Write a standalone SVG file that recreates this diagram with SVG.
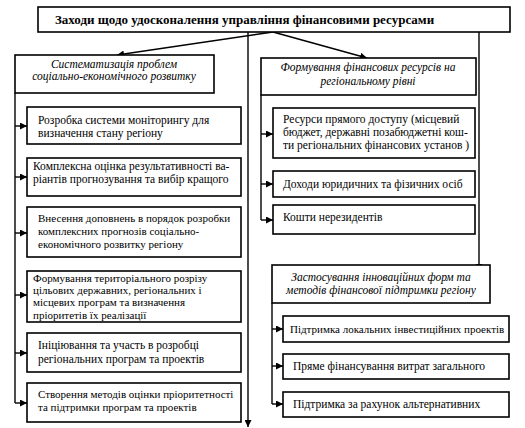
<svg xmlns="http://www.w3.org/2000/svg" width="525" height="428" viewBox="0 0 525 428">
<style>
.box{fill:#fff;stroke:#000;stroke-width:1.6}
.t{font-family:'Liberation Serif','DejaVu Serif',serif;font-size:11.5px;fill:#000}
.s{font-size:11px}
.h{font-family:'Liberation Serif','DejaVu Serif',serif;font-size:11.5px;font-style:italic;fill:#000;text-anchor:middle}
.title{font-family:'Liberation Serif','DejaVu Serif',serif;font-size:13px;font-weight:bold;fill:#000}
.ln{fill:none;stroke:#000;stroke-width:1.4}
</style>
<defs>
<marker id="ah" viewBox="0 0 10 10" refX="10" refY="5" markerWidth="7" markerHeight="7" markerUnits="userSpaceOnUse" orient="auto">
<path d="M0,0 L10,5 L0,10 z" fill="#000"/>
</marker>
<clipPath id="c4"><rect x="26" y="271" width="215" height="50"/></clipPath>
</defs>
<rect width="525" height="428" fill="#fff"/>

<g id="connectors">
<line class="ln" x1="273" y1="32" x2="117" y2="55" marker-end="url(#ah)"/>
<line class="ln" x1="273" y1="32" x2="367" y2="58" marker-end="url(#ah)"/>
<line class="ln" x1="248" y1="32" x2="248" y2="427" marker-end="url(#ah)"/>
<line class="ln" x1="479" y1="32" x2="479" y2="271" marker-end="url(#ah)"/>
<polyline class="ln" points="15,93 15,403"/>
<line class="ln" x1="15" y1="126" x2="27" y2="126" marker-end="url(#ah)"/>
<line class="ln" x1="15" y1="177" x2="27" y2="177" marker-end="url(#ah)"/>
<line class="ln" x1="15" y1="233" x2="27" y2="233" marker-end="url(#ah)"/>
<line class="ln" x1="15" y1="295" x2="27" y2="295" marker-end="url(#ah)"/>
<line class="ln" x1="15" y1="353" x2="27" y2="353" marker-end="url(#ah)"/>
<line class="ln" x1="15" y1="403" x2="27" y2="403" marker-end="url(#ah)"/>
<polyline class="ln" points="261,95 261,220"/>
<line class="ln" x1="261" y1="134" x2="273" y2="134" marker-end="url(#ah)"/>
<line class="ln" x1="261" y1="184" x2="273" y2="184" marker-end="url(#ah)"/>
<line class="ln" x1="261" y1="220" x2="273" y2="220" marker-end="url(#ah)"/>
<polyline class="ln" points="272,303 272,404"/>
<line class="ln" x1="272" y1="329" x2="283" y2="329" marker-end="url(#ah)"/>
<line class="ln" x1="272" y1="366" x2="283" y2="366" marker-end="url(#ah)"/>
<line class="ln" x1="272" y1="404" x2="283" y2="404" marker-end="url(#ah)"/>
</g>

<g id="root">
<rect class="box" x="38" y="7" width="472" height="25"/>
<text class="title" x="55" y="24">Заходи щодо удосконалення управління фінансовими ресурсами</text>
</g>

<g id="left-header">
<rect class="box" x="15" y="55" width="199" height="38"/>
<text class="h" x="114" y="68">Систематизація проблем</text>
<text class="h" x="114" y="80">соціально-економічного розвитку</text>
</g>

<g id="l1">
<rect class="box" x="27" y="107" width="214" height="37"/>
<text class="t" x="38" y="124">Розробка системи моніторингу для</text>
<text class="t" x="38" y="137">визначення стану регіону</text>
</g>
<g id="l2">
<rect class="box" x="27" y="158" width="214" height="38"/>
<text class="t" x="33" y="170">Комплексна оцінка результативності ва-</text>
<text class="t" x="33" y="183">ріантів прогнозування та вибір кращого</text>
</g>
<g id="l3">
<rect class="box" x="27" y="207" width="214" height="50"/>
<text class="t s" x="38" y="222">Внесення доповнень в порядок розробки</text>
<text class="t s" x="38" y="235">комплексних прогнозів соціально-</text>
<text class="t s" x="38" y="248">економічного розвитку регіону</text>
</g>
<g id="l4">
<rect class="box" x="27" y="271" width="214" height="51"/>
<g clip-path="url(#c4)">
<text class="t s" x="33" y="282">Формування територіального розрізу</text>
<text class="t s" x="33" y="294">цільових державних, регіональних і</text>
<text class="t s" x="33" y="306">місцевих програм та визначення</text>
<text class="t s" x="33" y="319">пріоритетів їх реалізації</text>
</g>
</g>
<g id="l5">
<rect class="box" x="27" y="333" width="214" height="39"/>
<text class="t" x="38" y="349">Ініціювання та участь в розробці</text>
<text class="t" x="38" y="363">регіональних програм та проектів</text>
</g>
<g id="l6">
<rect class="box" x="27" y="383" width="214" height="39"/>
<text class="t s" x="38" y="398">Створення методів оцінки пріоритетності</text>
<text class="t s" x="38" y="411">та підтримки програм та проектів</text>
</g>

<g id="right-header">
<rect class="box" x="261" y="58" width="215" height="37"/>
<text class="h" x="368" y="71">Формування фінансових ресурсів на</text>
<text class="h" x="368" y="85">регіональному рівні</text>
</g>
<g id="r1">
<rect class="box" x="273" y="108" width="202" height="50"/>
<text class="t" x="283" y="123">Ресурси прямого доступу (місцевий</text>
<text class="t" x="283" y="136">бюджет, державні позабюджетні кош-</text>
<text class="t" x="283" y="149">ти регіональних фінансових установ )</text>
</g>
<g id="r2">
<rect class="box" x="273" y="171" width="202" height="26"/>
<text class="t" x="283" y="188">Доходи юридичних та фізичних осіб</text>
</g>
<g id="r3">
<rect class="box" x="273" y="205" width="202" height="29"/>
<text class="t" x="283" y="221">Кошти нерезидентів</text>
</g>

<g id="right-header2">
<rect class="box" x="272" y="265" width="218" height="38"/>
<text class="h" x="381" y="281">Застосування інноваційних форм та</text>
<text class="h" x="381" y="294">методів фінансової підтримки регіону</text>
</g>
<g id="q1">
<rect class="box" x="283" y="316" width="226" height="26"/>
<text class="t s" x="290" y="333">Підтримка локальних інвестиційних проектів</text>
</g>
<g id="q2">
<rect class="box" x="283" y="354" width="226" height="25"/>
<text class="t" x="293" y="370">Пряме фінансування витрат загального</text>
</g>
<g id="q3">
<rect class="box" x="283" y="392" width="226" height="25"/>
<text class="t" x="293" y="408">Підтримка за рахунок альтернативних</text>
</g>
</svg>
